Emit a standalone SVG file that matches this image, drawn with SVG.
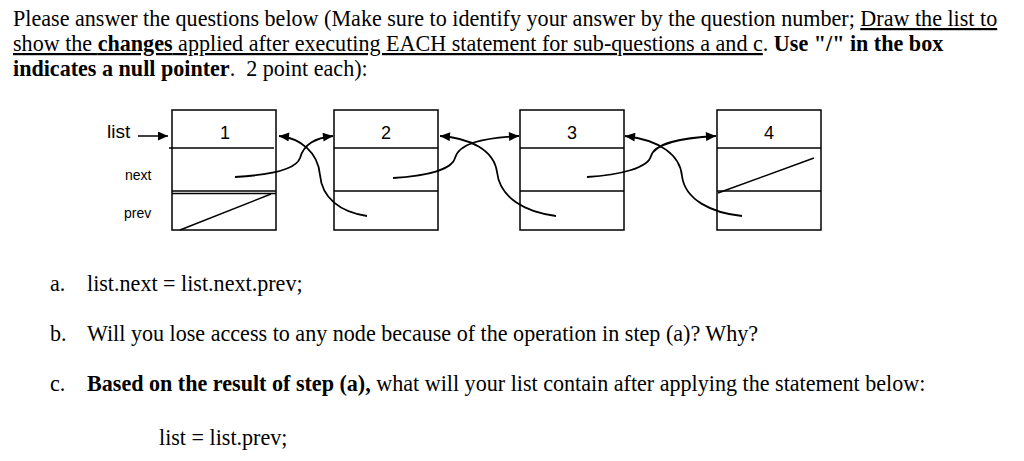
<svg xmlns="http://www.w3.org/2000/svg" width="1024" height="461" viewBox="0 0 1024 461">
  <style>
    .t { font-family: "Liberation Serif", "Times New Roman", serif; font-size: 22.1px; fill: #000; }
    .b { font-weight: bold; }
    .u { text-decoration: underline; }
    .s { font-family: "Liberation Sans", Arial, sans-serif; fill: #000; }
    .box { fill: #fff; stroke: #000; stroke-width: 1.5; }
    .ln { stroke: #000; stroke-width: 1.5; fill: none; }
    .cv { stroke: #000; stroke-width: 1.8; fill: none; }
  </style>
  <defs>
    <marker id="ah" viewBox="0 0 10 9" refX="10" refY="4.5" markerWidth="11" markerHeight="9" markerUnits="userSpaceOnUse" orient="auto">
      <path d="M0,0 L10,4.5 L0,9 z" fill="#000"/>
    </marker>
  </defs>
  <rect width="1024" height="461" fill="#fff"/>

  <g id="instructions">
    <text class="t" x="13" y="26">Please answer the questions below (Make sure to identify your answer by the question number; <tspan class="u">Draw the list to</tspan></text>
    <text class="t" x="13" y="51"><tspan class="u">show the </tspan><tspan class="u b">changes</tspan><tspan class="u"> applied after executing EACH statement for sub-questions a and c</tspan>. <tspan class="b">Use "/" in the box</tspan></text>
    <text class="t" x="13" y="76"><tspan class="b">indicates a null pointer</tspan>.<tspan dx="11">2 point each):</tspan></text>
  </g>

  <g id="list-label">
    <text class="s" x="107" y="138" font-size="19">list</text>
    <line class="ln" x1="138" y1="136" x2="168" y2="136" marker-end="url(#ah)"/>
  </g>

  <g id="node1">
    <rect class="box" x="172" y="110" width="104" height="120"/>
    <line class="ln" x1="169" y1="148" x2="274" y2="148"/>
    <line class="ln" x1="172" y1="191" x2="276" y2="191"/>
    <line class="ln" x1="172" y1="193.5" x2="276" y2="193.5"/>
    <line class="ln" x1="180" y1="230" x2="271" y2="194"/>
    <text class="s" x="225" y="139" font-size="18" text-anchor="middle">1</text>
    <text class="s" x="125" y="180" font-size="14">next</text>
    <text class="s" x="124" y="218" font-size="14">prev</text>
  </g>

  <g id="node2">
    <rect class="box" x="334" y="110" width="104" height="120"/>
    <line class="ln" x1="334" y1="148" x2="438" y2="148"/>
    <line class="ln" x1="334" y1="191" x2="438" y2="191"/>
    <text class="s" x="386" y="139" font-size="18" text-anchor="middle">2</text>
  </g>

  <g id="node3">
    <rect class="box" x="520" y="110" width="104" height="120"/>
    <line class="ln" x1="520" y1="148" x2="624" y2="148"/>
    <line class="ln" x1="520" y1="191" x2="624" y2="191"/>
    <text class="s" x="572" y="139" font-size="18" text-anchor="middle">3</text>
  </g>

  <g id="node4">
    <rect class="box" x="717" y="110" width="104" height="120"/>
    <line class="ln" x1="717" y1="148" x2="821" y2="148"/>
    <line class="ln" x1="717" y1="191" x2="821" y2="191"/>
    <line class="ln" x1="718" y1="193" x2="814" y2="158"/>
    <text class="s" x="769" y="139" font-size="18" text-anchor="middle">4</text>
  </g>

  <g id="connectors">
    <path class="cv" d="M235,177 C270,175 296,170 300,158 C304,144 315,138 333,136" marker-end="url(#ah)"/>
    <path class="cv" d="M367,216 C340,212 322,198 320,175 C318,152 300,138 279,136" marker-end="url(#ah)"/>
    <path class="cv" d="M393,178 C425,176 452,170 455,158 C459,144 480,138 519,136" marker-end="url(#ah)"/>
    <path class="cv" d="M556,216 C525,212 500,198 497,172 C494,150 470,138 440,136" marker-end="url(#ah)"/>
    <path class="cv" d="M587,177 C620,175 648,168 651,156 C655,143 680,138 716,136" marker-end="url(#ah)"/>
    <path class="cv" d="M742,216 C712,213 685,200 682,176 C680,155 660,140 625,136" marker-end="url(#ah)"/>
  </g>

  <g id="questions">
    <text class="t" x="50" y="291">a.</text>
    <text class="t" x="87" y="291">list.next = list.next.prev;</text>
    <text class="t" x="50" y="341">b.</text>
    <text class="t" x="87" y="341">Will you lose access to any node because of the operation in step (a)? Why?</text>
    <text class="t" x="50" y="391">c.</text>
    <text class="t" x="87" y="391"><tspan class="b">Based on the result of step (a),</tspan> what will your list contain after applying the statement below:</text>
    <text class="t" x="159" y="445">list = list.prev;</text>
  </g>
</svg>
